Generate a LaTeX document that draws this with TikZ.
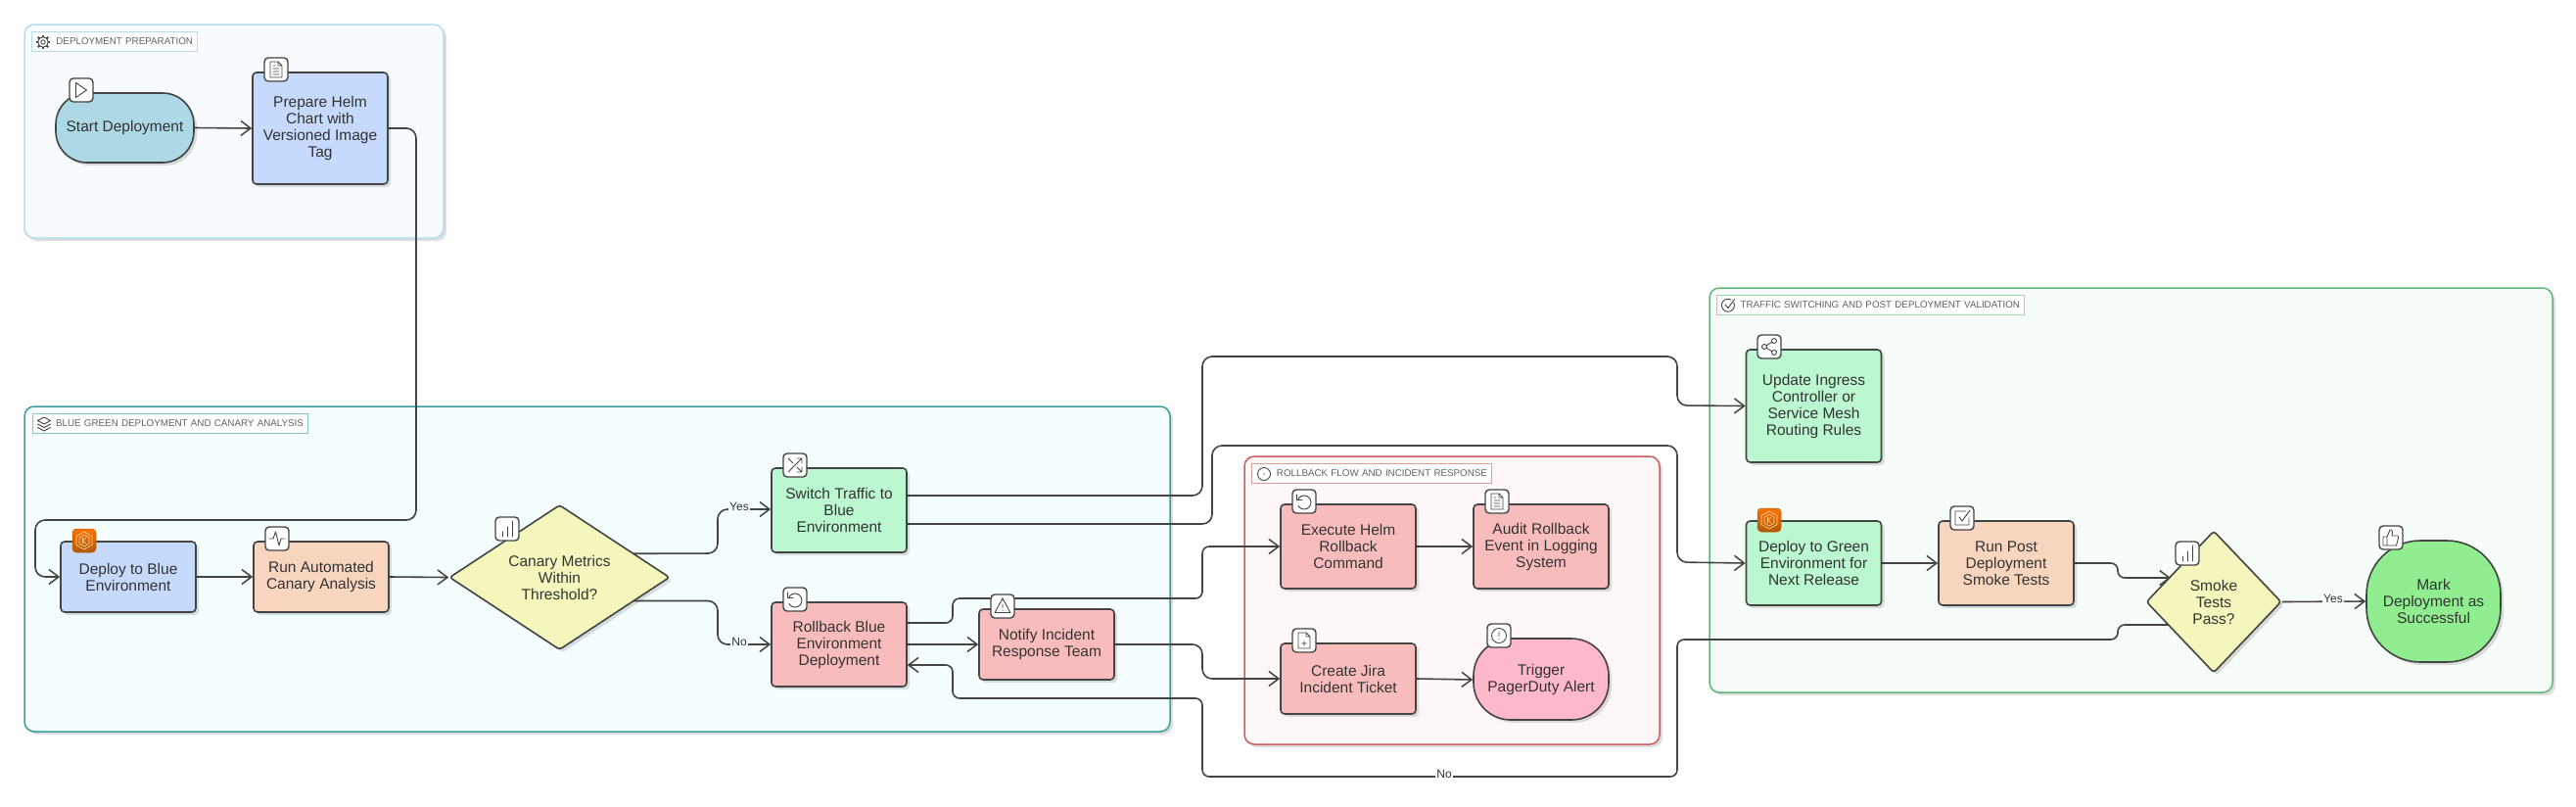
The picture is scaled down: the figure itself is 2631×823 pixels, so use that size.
\documentclass[tikz,border=0pt]{standalone}
\usepackage{fontspec}
\setmainfont{Liberation Sans}
\usetikzlibrary{arrows.meta,shapes.geometric,shadows}
\pgfdeclarelayer{bg}
\pgfdeclarelayer{edges}
\pgfsetlayers{bg,edges,main}
\definecolor{inkline}{HTML}{444444}
\definecolor{inktext}{HTML}{333333}
\definecolor{startfill}{HTML}{ADD8E6}
\definecolor{bluefill}{HTML}{C5DAFC}
\definecolor{peachfill}{HTML}{F7D5BE}
\definecolor{yellowfill}{HTML}{F5F6BC}
\definecolor{greenfill}{HTML}{BBF7D0}
\definecolor{redfill}{HTML}{F9BCBC}
\definecolor{pinkfill}{HTML}{FFB9CB}
\definecolor{donefill}{HTML}{90EE90}
\definecolor{prepback}{HTML}{F7FBFE}
\definecolor{prepedge}{HTML}{B5DCE9}
\definecolor{canaryback}{HTML}{F4FEFE}
\definecolor{canaryedge}{HTML}{3B9C9C}
\definecolor{rollback}{HTML}{FDF7F7}
\definecolor{rollbackedge}{HTML}{CD5C5C}
\definecolor{switchback}{HTML}{F6FCF8}
\definecolor{switchedge}{HTML}{5CB878}
\tikzset{
  softshadow/.style={general shadow={shadow xshift=3pt,shadow yshift=-3pt,fill=black,opacity=0.13}},
  groupbox/.style={rectangle,rounded corners=10pt,line width=1.5pt,softshadow,inner sep=0pt},
  grouptag/.style={rectangle,fill=white,line width=0.5pt,minimum height=20pt,inner xsep=4pt,inner ysep=0pt,
    align=right,text=black!62,font=\fontsize{9.8pt}{12pt}\selectfont},
  stepbox/.style={rectangle,draw=inkline,line width=1.6pt,rounded corners=4pt,softshadow,minimum width=138pt,
    inner sep=0pt,align=center,text=inktext,font=\fontsize{15.5pt}{17pt}\selectfont},
  pillbox/.style={stepbox,rounded corners=#1},
  choicebox/.style={diamond,draw=inkline,fill=yellowfill,line width=1.6pt,rounded corners=3pt,softshadow,
    inner sep=0pt,align=center,text=inktext,font=\fontsize{15.5pt}{17pt}\selectfont},
  badge/.style={rectangle,draw=inkline,fill=white,line width=1.4pt,rounded corners=4pt,minimum size=24pt,inner sep=0pt},
  k8sbadge/.style={badge,draw=orange!70!black,line width=0.5pt,top color=orange!90!red,bottom color=orange!70!black},
  flow/.style={draw=inkline,line width=1.6pt,rounded corners=10pt,-{Straight Barb[length=10pt,width=15pt,line width=1.5pt]}},
  tightflow/.style={flow,rounded corners=7pt},
  edgetag/.style={inner xsep=1.5pt,inner ysep=0.5pt,text=inktext,font=\fontsize{12pt}{13pt}\selectfont},
  iconline/.style={draw=inkline,line width=0.9pt,line join=round,line cap=round},
  % Icons of the badges and of the group tags, y runs downwards
  playicon/.pic={\draw[iconline] (-5.5,-7.5) -- (5.5,0) -- (-5.5,7.5) -- cycle;},
  docicon/.pic={\draw[iconline] (-6,-8) -- (2,-8) -- (6,-4) -- (6,8) -- (-6,8) -- cycle (2,-8) -- (2,-4) -- (6,-4)
    (-3,-1) -- (3,-1) (-3,2) -- (3,2) (-3,5) -- (3,5) (-3,-4) -- (-1,-4);},
  hexicon/.pic={\draw[iconline,draw=orange!30,line width=0.6pt] (0,-9) -- (8,-4.5) -- (8,4.5) -- (0,9) -- (-8,4.5) -- (-8,-4.5) -- cycle
    (0,-6) -- (5,-3) -- (5,3) -- (0,6) -- (-5,3) -- (-5,-3) -- cycle (-1.5,-3) -- (-1.5,3) (2,-3) -- (-1.5,0) -- (2,3);},
  pulseicon/.pic={\draw[iconline] (-8,0) -- (-4,0) -- (-1.5,-7) -- (2,7) -- (4,0) -- (8,0);},
  barsicon/.pic={\draw[iconline] (-5,8) -- (-5,3) (0,8) -- (0,-2) (5,8) -- (5,-8);},
  shuffleicon/.pic={\draw[iconline] (-7,7) -- (7,-7) (2,-7) -- (7,-7) -- (7,-2) (-7,-7) -- (-2,-2) (2,2) -- (7,7) (7,2) -- (7,7) -- (2,7);},
  undoicon/.pic={\draw[iconline] (-6.6,-1.4) arc[start angle=160,end angle=-150,radius=7pt] (-7.5,-7) -- (-7.5,-1.5) -- (-2,-1.5);},
  warnicon/.pic={\draw[iconline] (0,-8) -- (8,6.5) -- (-8,6.5) -- cycle (0,-2) -- (0,2) (0,4.4) -- (0,4.6);},
  fileplusicon/.pic={\draw[iconline] (-6,-8) -- (2,-8) -- (6,-4) -- (6,8) -- (-6,8) -- cycle (2,-8) -- (2,-4) -- (6,-4)
    (-2.5,3) -- (2.5,3) (0,0.5) -- (0,5.5);},
  alerticon/.pic={\draw[iconline] (0,0) circle[radius=7.5] (0,-4) -- (0,0.5) (0,3.4) -- (0,3.6);},
  shareicon/.pic={\draw[iconline] (5,-6) circle[radius=2.5] (-5,0) circle[radius=2.5] (5,6) circle[radius=2.5]
    (-2.8,-1.3) -- (2.8,-4.7) (-2.8,1.3) -- (2.8,4.7);},
  checkboxicon/.pic={\draw[iconline] (7,0) -- (7,7) -- (-7,7) -- (-7,-7) -- (4,-7) (-3,-1) -- (0,3) -- (8,-8);},
  thumbicon/.pic={\draw[iconline] (-8,-1) -- (-4,-1) -- (-4,8) -- (-8,8) -- cycle (-4,-1) -- (-1,-8) -- (0.5,-8) -- (1.5,-6) -- (1,-2)
    -- (7,-2) -- (7.5,0) -- (5.5,8) -- (-4,8);},
  gearicon/.pic={\draw[iconline] (0,0) circle[radius=2.2] (0,0) circle[radius=5.2];
    \foreach \a in {0,45,...,315} {\draw[iconline,line width=2pt,line cap=butt] (\a:5.2) -- (\a:7.3);}},
  layersicon/.pic={\draw[iconline] (0,-7) -- (6.5,-3.5) -- (0,0) -- (-6.5,-3.5) -- cycle (-6.5,0) -- (0,3.5) -- (6.5,0) (-6.5,3.5) -- (0,7) -- (6.5,3.5);},
  dotcircleicon/.pic={\draw[iconline] (0,0) circle[radius=6.5] (0,-1) -- (0,0.5);},
  checkcircleicon/.pic={\draw[iconline] (5.8,-3) arc[start angle=25,end angle=-300,radius=6.5pt] (-3,-1) -- (0,2.5) -- (6.5,-6.5);},
}
\begin{document}
\begin{tikzpicture}[x=1pt,y=-1pt]
\useasboundingbox (0,0) rectangle (2631,823);

% Group boxes and their tags
\begin{pgfonlayer}{bg}
\node[groupbox,draw=prepedge,fill=prepback,minimum width=428pt,minimum height=218pt] (prepgroup) at (239,134) {};
\node[groupbox,draw=canaryedge,fill=canaryback,minimum width=1170pt,minimum height=332pt] (canarygroup) at (610,581) {};
\node[groupbox,draw=rollbackedge,fill=rollback,minimum width=424pt,minimum height=294pt] (rollbackgroup) at (1483,613) {};
\node[groupbox,draw=switchedge,fill=switchback,minimum width=861pt,minimum height=413pt] (switchgroup) at (2176.5,500.5) {};
\end{pgfonlayer}
\node[grouptag,draw=prepedge,text width=161pt] (preptag) at (116.5,42) {DEPLOYMENT PREPARATION};
\node[grouptag,draw=canaryedge!60,text width=273pt] (canarytag) at (173.5,432) {BLUE GREEN DEPLOYMENT AND CANARY ANALYSIS};
\node[grouptag,draw=rollbackedge!60,text width=237pt] (rollbacktag) at (1400.5,483) {ROLLBACK FLOW AND INCIDENT RESPONSE};
\node[grouptag,draw=switchedge!60,text width=306pt] (switchtag) at (1910,311.5) {TRAFFIC SWITCHING AND POST DEPLOYMENT VALIDATION};
\pic at (44,43) {gearicon};
\pic at (45,433) {layersicon};
\pic at (1291,484) {dotcircleicon};
\pic at (1765,312) {checkcircleicon};

% Steps
\node[pillbox=32pt,fill=startfill,minimum width=141pt,minimum height=71pt] (start) at (127.5,130.5) {Start Deployment};
\node[stepbox,fill=bluefill,minimum height=114pt] (prepare) at (327,131) {Prepare Helm\\Chart with\\Versioned Image\\Tag};
\node[stepbox,fill=bluefill,minimum height=72pt] (deployblue) at (131,589) {Deploy to Blue\\Environment};
\node[stepbox,fill=peachfill,minimum height=72pt] (canaryrun) at (328,589) {Run Automated\\Canary Analysis};
\node[choicebox,minimum width=225pt,minimum height=148pt,shape aspect=1.52] (canarycheck) at (571.5,589.5) {Canary Metrics\\Within\\Threshold?};
\node[stepbox,fill=greenfill,minimum height=86pt] (switchblue) at (857,521) {Switch Traffic to\\Blue\\Environment};
\node[stepbox,fill=redfill,minimum height=86pt] (rollblue) at (857,658) {Rollback Blue\\Environment\\Deployment};
\node[stepbox,fill=redfill,minimum height=72pt] (notify) at (1069,658) {Notify Incident\\Response Team};
\node[stepbox,fill=redfill,minimum height=86pt] (helmroll) at (1377,558) {Execute Helm\\Rollback\\Command};
\node[stepbox,fill=redfill,minimum height=86pt] (audit) at (1574,558) {Audit Rollback\\Event in Logging\\System};
\node[stepbox,fill=redfill,minimum height=72pt] (jira) at (1377,693) {Create Jira\\Incident Ticket};
\node[pillbox=38pt,fill=pinkfill,minimum height=83pt] (pager) at (1574,693.5) {Trigger\\PagerDuty Alert};
\node[stepbox,fill=greenfill,minimum height=115pt] (ingress) at (1852.5,414.5) {Update Ingress\\Controller or\\Service Mesh\\Routing Rules};
\node[stepbox,fill=greenfill,minimum height=86pt] (deploygreen) at (1852.5,575) {Deploy to Green\\Environment for\\Next Release};
\node[stepbox,fill=peachfill,minimum height=86pt] (smokerun) at (2049,575) {Run Post\\Deployment\\Smoke Tests};
\node[choicebox,minimum width=138pt,minimum height=145pt,shape aspect=0.95] (smokecheck) at (2261,614.5) {Smoke\\Tests\\Pass?};
\node[pillbox=55pt,fill=donefill,minimum width=137pt,minimum height=124pt] (done) at (2485.5,614) {Mark\\Deployment as\\Successful};
\coordinate (smokein) at (2217,590);

% Badges on the steps
\node[badge] (startbadge) at (83,92) {};
\pic at (startbadge) {playicon};
\node[badge] (preparebadge) at (282,71) {};
\pic at (preparebadge) {docicon};
\node[k8sbadge] (deploybluebadge) at (86,552) {};
\pic at (deploybluebadge) {hexicon};
\node[badge] (canaryrunbadge) at (283,550) {};
\pic at (canaryrunbadge) {pulseicon};
\node[badge] (canarycheckbadge) at (518,540) {};
\pic at (canarycheckbadge) {barsicon};
\node[badge] (switchbluebadge) at (812,475) {};
\pic at (switchbluebadge) {shuffleicon};
\node[badge] (rollbluebadge) at (812,612) {};
\pic at (rollbluebadge) {undoicon};
\node[badge] (notifybadge) at (1024,619) {};
\pic at (notifybadge) {warnicon};
\node[badge] (helmrollbadge) at (1332,512) {};
\pic at (helmrollbadge) {undoicon};
\node[badge] (auditbadge) at (1529,512) {};
\pic at (auditbadge) {docicon};
\node[badge] (jirabadge) at (1332,654) {};
\pic at (jirabadge) {fileplusicon};
\node[badge] (pagerbadge) at (1531,649) {};
\pic at (pagerbadge) {alerticon};
\node[badge] (ingressbadge) at (1807,354) {};
\pic at (ingressbadge) {shareicon};
\node[k8sbadge] (deploygreenbadge) at (1807,531) {};
\pic at (deploygreenbadge) {hexicon};
\node[badge] (smokerunbadge) at (2004,529) {};
\pic at (smokerunbadge) {checkboxicon};
\node[badge] (smokecheckbadge) at (2234,565) {};
\pic at (smokecheckbadge) {barsicon};
\node[badge] (donebadge) at (2442,549) {};
\pic at (donebadge) {thumbicon};

% Connectors, they stay under the steps
\begin{pgfonlayer}{edges}
\draw[flow] (start.east) -- (prepare.west);
\draw[flow] (prepare.east) -- (425,131) -- (425,531) -- (36,531) -- (36,589) -- (deployblue.west);
\draw[flow] (deployblue.east) -- (canaryrun.west);
\draw[flow] (canaryrun.east) -- (canarycheck.west);
\draw[flow] ([yshift=24pt]canarycheck.center) -- (733,565) -- (733,520) -- ([yshift=1pt]switchblue.west);
\draw[flow] ([yshift=-24pt]canarycheck.center) -- (733,613.5) -- (733,658) -- (rollblue.west);
\draw[flow] ([yshift=15pt]switchblue.east) -- (1228,506) -- (1228,364) -- (1713,364) -- (1713,414) -- (ingress.west);
\draw[flow] ([yshift=-14pt]switchblue.east) -- (1238,535) -- (1238,455) -- (1713,455) -- (1713,574) -- (deploygreen.west);
\draw[tightflow] ([yshift=22pt]rollblue.east) -- (973,636) -- (973,611) -- (1228,611) -- (1228,558) -- (helmroll.west);
\draw[flow] (rollblue.east) -- (notify.west);
\draw[flow] (notify.east) -- (1228,658) -- (1228,693) -- (jira.west);
\draw[flow] (helmroll.east) -- (audit.west);
\draw[flow] (jira.east) -- ([yshift=-0.5pt]pager.west);
\draw[flow] (deploygreen.east) -- (smokerun.west);
\draw[tightflow] (smokerun.east) -- (2163,575) -- (2163,590) -- (smokein);
\draw[flow] (smokecheck.east) -- (done.west);
\draw[tightflow] ([yshift=-23.5pt]smokecheck.center) -- (2163,638) -- (2163,653) -- (1713,653) -- (1713,793) -- (1228,793) -- (1228,713) -- (973,713) -- (973,679) -- ([yshift=-21pt]rollblue.east);
\end{pgfonlayer}

% Labels on the connectors
\node[edgetag,fill=canaryback] (yescanary) at (755,517) {Yes};
\node[edgetag,fill=canaryback] (nocanary) at (755,655) {No};
\node[edgetag,fill=white] (nosmoke) at (1475,790) {No};
\node[edgetag,fill=switchback] (yessmoke) at (2383,611) {Yes};
\end{tikzpicture}
\end{document}
